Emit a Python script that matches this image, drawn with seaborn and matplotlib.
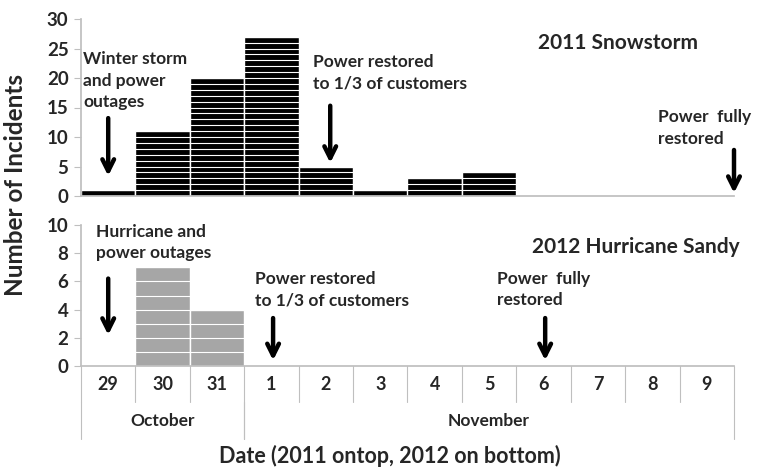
import numpy as np
import pandas as pd
import matplotlib
matplotlib.use("Agg")
import matplotlib.pyplot as plt
import matplotlib.transforms as mtransforms
import seaborn as sns

# data
days = ["29", "30", "31", "1", "2", "3", "4", "5", "6", "7", "8", "9"]
months = ["October", "November"]
month_len = [3, 9]
snow_2011 = [1, 11, 20, 27, 5, 1, 3, 4, 0, 0, 0, 0]
sandy_2012 = [0, 7, 4, 0, 0, 0, 0, 0, 0, 0, 0, 0]

sns.set_theme(style="white")
plt.rcParams["font.family"] = ["Lato", "DejaVu Sans"]
plt.rcParams["font.weight"] = "bold"

GRID = "#bfbfbf"

fig = plt.figure(figsize=(7.64, 4.75), dpi=100)
ax1 = fig.add_axes([81 / 764, 1 - 196 / 475, 653 / 764, 177 / 475])
ax2 = fig.add_axes([81 / 764, 1 - 366 / 475, 653 / 764, 141 / 475])


def bars(ax, vals, color, ymax, step):
    df = pd.DataFrame({"day": days, "n": vals})
    sns.barplot(data=df, x="day", y="n", order=days, color=color, saturation=1,
                width=1, edgecolor="white", linewidth=1, ax=ax)
    # white line at every incident, like stacked unit blocks
    for i, v in enumerate(vals):
        if v > 1:
            ax.hlines(np.arange(1, v), i - 0.5, i + 0.5, color="white", lw=0.8)
    ax.set_xlim(-0.5, len(days) - 0.5)
    ax.set_ylim(0, ymax)
    ax.set_yticks(np.arange(0, ymax + 1, step))
    ax.set_xlabel("")
    ax.set_ylabel("")
    ax.set_xticks([])
    for s in ["top", "right"]:
        ax.spines[s].set_visible(False)
    ax.spines["left"].set_color(GRID)
    ax.spines["bottom"].set_color(GRID)
    ax.tick_params(axis="y", left=True, length=5, width=0.8, color=GRID,
                   labelsize=13.5, pad=4)
    for t in ax.get_yticklabels():
        t.set_fontweight("bold")


bars(ax1, snow_2011, "black", 30, 5)
bars(ax2, sandy_2012, "#a6a6a6", 10, 2)


def arrow(ax, x, y0, y1):
    ax.annotate("", xy=(x, y1), xytext=(x, y0),
                arrowprops=dict(arrowstyle="->,head_length=0.7,head_width=0.35",
                                lw=3.2, color="black", shrinkA=0, shrinkB=0))


txt = dict(fontsize=12.5, fontweight="bold", va="top", ha="left", linespacing=1.42)
title = dict(fontsize=15, fontweight="bold", ha="center", va="center")

# 2011 panel
ax1.text(-0.46, 24.5, "Winter storm\nand power\noutages", **txt)
arrow(ax1, 0, 13.2, 3.4)
ax1.text(3.76, 24.0, "Power restored\nto 1/3 of customers", **txt)
arrow(ax1, 4.08, 15.3, 5.6)
ax1.text(10.1, 14.7, "Power  fully\nrestored", **txt)
arrow(ax1, 11.5, 7.8, 0.5)
ax1.text(9.37, 25.9, "2011 Snowstorm", **title)

# 2012 panel
ax2.text(-0.22, 10.1, "Hurricane and\npower outages", **txt)
arrow(ax2, 0, 6.2, 2.2)
ax2.text(2.7, 6.75, "Power restored\nto 1/3 of customers", **txt)
arrow(ax2, 3.03, 3.4, 0.4)
ax2.text(7.14, 6.75, "Power  fully\nrestored", **txt)
arrow(ax2, 8.03, 3.4, 0.4)
ax2.text(9.7, 8.44, "2012 Hurricane Sandy", **title)

# category table under the bottom panel
tr = mtransforms.blended_transform_factory(ax2.transData, ax2.transAxes)
row1, row2 = -36 / 141, -73 / 141
for i, d in enumerate(days):
    ax2.text(i, row1 / 2, d, transform=tr, ha="center", va="center",
             fontsize=13, fontweight="bold")
for i in range(len(days) + 1):
    ax2.plot([i - 0.5, i - 0.5], [0, row1], transform=tr, color=GRID,
             lw=0.8, clip_on=False)
start = 0
for m, n in zip(months, month_len):
    ax2.text(start + n / 2 - 0.5, (row1 + row2) / 2, m, transform=tr,
             ha="center", va="center", fontsize=12.5, fontweight="bold")
    for edge in (start, start + n):
        ax2.plot([edge - 0.5, edge - 0.5], [row1, row2], transform=tr,
                 color=GRID, lw=0.8, clip_on=False)
    start += n

fig.text(16 / 764, 1 - 185 / 475, "Number of Incidents", rotation=90,
         ha="center", va="center", fontsize=17.5, fontweight="bold")
fig.text(390 / 764, 1 - 456 / 475, "Date (2011 ontop, 2012 on bottom)",
         ha="center", va="center", fontsize=15.5, fontweight="bold")

fig.savefig("out.png", dpi=100)
